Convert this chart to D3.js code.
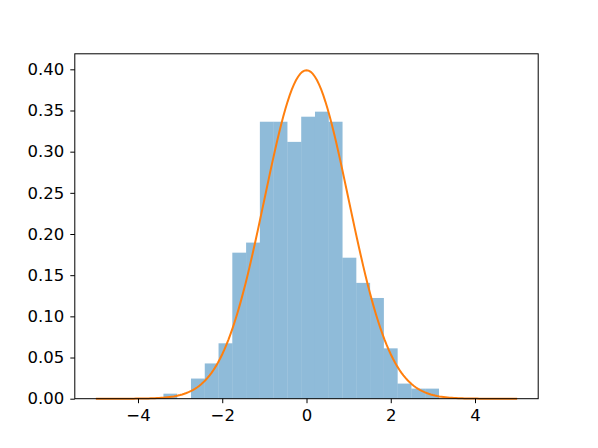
<!DOCTYPE html>
<html>
<head>
<meta charset="utf-8">
<script src="https://cdn.jsdelivr.net/npm/d3@7"></script>
<style>
  body { margin: 0; background: #fff; }
  text { font-family: "DejaVu Sans", sans-serif; }
</style>
</head>
<body>
<script>
// histogram: 500 samples, 20 equal bins
var binLo = -3.396, binHi = 3.145;
var counts = [1, 0, 4, 7, 11, 29, 31, 55, 55, 51, 56, 57, 55, 28, 23, 20, 10, 3, 2, 2];
var nSamples = 500;
var xTicks = [-4, -2, 0, 2, 4];
var yTicks = [0, 0.05, 0.10, 0.15, 0.20, 0.25, 0.30, 0.35, 0.40];
var curveRange = [-5, 5];

var width = 598, height = 448;
var margin = {top: 53.8, right: 59.8, bottom: 49.3, left: 74.8};

var svg = d3.select("body").append("svg")
    .attr("width", width)
    .attr("height", height);

var x = d3.scaleLinear()
    .domain([-5.5, 5.5])
    .range([margin.left, width - margin.right]);

var y = d3.scaleLinear()
    .domain([0, 0.3989 * 1.05])
    .range([height - margin.bottom, margin.top]);

var bw = (binHi - binLo) / counts.length;
var bins = counts.map((c, i) => ({
  x0: binLo + i * bw,
  x1: binLo + (i + 1) * bw,
  d: c / (nSamples * bw)
}));

svg.selectAll("rect.bar")
    .data(bins)
    .enter()
    .append("rect")
    .attr("class", "bar")
    .attr("x", d => x(d.x0))
    .attr("width", d => x(d.x1) - x(d.x0))
    .attr("y", d => y(d.d))
    .attr("height", d => y(0) - y(d.d))
    .style("fill", "#1f77b4")
    .style("fill-opacity", 0.5);

// normal pdf
var pdf = v => Math.exp(-v * v / 2) / Math.sqrt(2 * Math.PI);
var pts = d3.range(0, 201).map(i => {
  var v = curveRange[0] + (curveRange[1] - curveRange[0]) * i / 200;
  return [v, pdf(v)];
});

svg.append("path")
    .datum(pts)
    .attr("d", d3.line().x(d => x(d[0])).y(d => y(d[1])))
    .style("fill", "none")
    .style("stroke", "#ff7f0e")
    .style("stroke-width", 2);

var fmtX = d => d < 0 ? "\u2212" + Math.abs(d) : "" + d;

var xAxis = d3.axisBottom(x)
    .tickValues(xTicks)
    .tickSize(4.5)
    .tickPadding(5.8)
    .tickFormat(fmtX);

var yAxis = d3.axisLeft(y)
    .tickValues(yTicks)
    .tickSize(4.5)
    .tickPadding(6)
    .tickFormat(d3.format(".2f"));

svg.append("g")
    .attr("transform", `translate(0, ${height - margin.bottom})`)
    .call(xAxis)
    .call(g => g.select(".domain").remove());

svg.append("g")
    .attr("transform", `translate(${margin.left}, 0)`)
    .call(yAxis)
    .call(g => g.select(".domain").remove());

svg.selectAll(".tick text")
    .style("font-size", "16.5px")
    .style("fill", "#000");
svg.selectAll(".tick line")
    .style("stroke", "#000")
    .style("stroke-width", 1);

svg.append("rect")
    .attr("x", margin.left)
    .attr("y", margin.top)
    .attr("width", width - margin.left - margin.right)
    .attr("height", height - margin.top - margin.bottom)
    .style("fill", "none")
    .style("stroke", "#000")
    .style("stroke-width", 1);
</script>
</body>
</html>
